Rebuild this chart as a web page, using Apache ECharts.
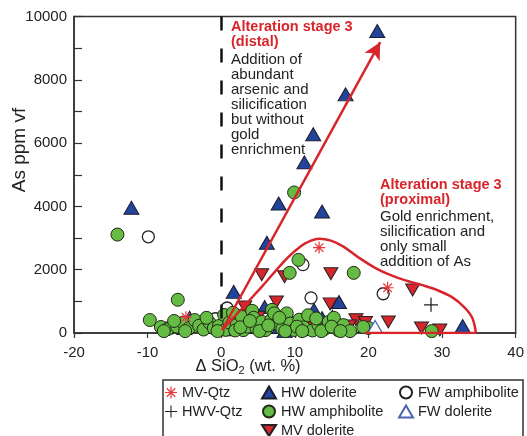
<!DOCTYPE html>
<html><head><meta charset="utf-8">
<script src="https://cdn.jsdelivr.net/npm/echarts@6/dist/echarts.min.js"></script>
<style>html,body{margin:0;padding:0;background:#fff}#c{width:527px;height:436px}</style>
</head><body><div id="c"></div>
<script>
// ---- data (Δ SiO2 wt.%, As ppm) ----
const mvQtz = [[13.3,2700],[22.6,1430],[-4.8,500]];
const hwvQtz = [[28.5,890]];
const hwDolerite = [[21.2,9540],[16.9,7540],[12.5,6280],[11.3,5390],[7.8,4090],[13.7,3840],[6.2,2850],[1.7,1300],[-12.2,3960],[16.0,980],[12.6,730],[32.8,220],[9.1,570],[5.9,820],[13.7,470],[15.1,510],[10.5,250],[16.5,130],[7.9,190],[9.1,320],[11.1,190],[-4.3,480],[-5.0,160],[3.3,200],[4.5,350],[0.9,120],[8.6,60]];
const hwAmphibolite = [[9.9,4440],[-14.1,3110],[10.5,2310],[9.3,1900],[18.0,1900],[-5.9,1050],[-9.7,410],[28.6,60],[20.0,160],
  [-8.2,190],[-7.3,120],[-6.0,200],[-5.2,330],[-4.4,150],[-3.6,410],[-3.0,230],[-2.4,110],[-1.6,330],[-1.0,150],[-0.3,220],[0.4,570],[0.6,100],[1.1,330],[1.6,640],[2.1,250],[2.8,510],[3.0,90],[3.6,200],[4.2,700],[4.4,480],[4.8,150],[5.5,350],[6.0,90],[6.8,410],[6.9,730],[7.2,620],[7.6,300],[8.3,130],[8.9,620],[9.4,300],[9.9,95],[10.6,420],[11.2,180],[11.8,560],[12.4,80],[13.2,260],[14.0,120],[14.6,350],[15.3,480],[15.9,90],[16.6,250],[19.3,190],[17.5,60],
  [-7.8,60],[-6.4,380],[-4.9,60],[-2.0,480],[-0.5,60],[1.9,80],[2.6,180],[3.9,380],[5.2,60],[6.4,240],[7.9,480],[8.7,60],[10.3,200],[11.0,60],[12.9,460],[13.6,60],[15.0,200],[16.2,60]];
const mvDolerite = [[5.5,1840],[8.6,1780],[14.9,1870],[26.0,1360],[22.7,350],[7.5,980],[14.8,920],[27.2,160],[29.7,95],[18.3,420],[19.6,330],[17.4,220],[3.2,820],[-6.6,160],[12.0,300],[5.0,500],[10.0,130]];
const fwAmphibolite = [[-9.9,3040],[11.1,2160],[12.2,1110],[22.0,1240],[0.8,790],[2.2,560],[-0.8,450],[17.9,130],[11.5,100]];
const fwDolerite = [[20.9,190]];
// proximal envelope (stage 3 proximal field)
const envelopeCurve = [[0.13,95],[5.5,1460],[8.9,2350],[10.9,2760],[12.2,2920],[13.3,2980],[14.9,2920],[16.6,2730],[18.7,2380],[20.9,2060],[23.2,1810],[25.2,1650],[27.2,1520],[29.3,1360],[31.3,1140],[33.0,820],[34.1,480],[34.6,0]];
const envelopeBase = [[34.6,0],[19.5,0]];
// distal trend arrow
const arrowFrom = [0.13,95];
const arrowTo = [21.6,9190];
const xMin = -20, xMax = 40, xStep = 10;
const yMin = 0, yMax = 10000, yStep = 2000;

const FONT = '"Liberation Sans", Arial, Helvetica, sans-serif';
const RED = '#d8252b';
const asteriskPath = 'path://M-1,-10L1,-10L1,10L-1,10Z M-10,-1L10,-1L10,1L-10,1Z M-7.78,-6.36L-6.36,-7.78L7.78,6.36L6.36,7.78Z M6.36,-7.78L7.78,-6.36L-6.36,7.78L-7.78,6.36Z';
const plusPath = 'path://M-0.9,-10L0.9,-10L0.9,10L-0.9,10Z M-10,-0.9L10,-0.9L10,0.9L-10,0.9Z';
const downTriPath = 'path://M-10,-8L10,-8L0,8Z';

const chart = echarts.init(document.getElementById('c'), null, {renderer:'canvas'});
const legendText = {fontSize:14.5, color:'#222', fontFamily:FONT};
const legendBase = {orient:'horizontal', width:10, top:385, itemHeight:12, itemGap:4, textStyle:legendText, selectedMode:false, padding:0};
chart.setOption({
  animation:false,
  backgroundColor:'#fff',
  grid:{left:74, right:3, top:16.5, bottom:103, show:true, borderColor:'#333', borderWidth:1.5, backgroundColor:'transparent'},
  xAxis:{type:'value', min:xMin, max:xMax, interval:xStep,
    axisLine:{show:true, onZero:false, lineStyle:{color:'#333', width:1.5}},
    axisTick:{show:true, length:5, lineStyle:{color:'#333', width:1.2}},
    axisLabel:{fontSize:15, color:'#222', fontFamily:FONT, margin:12, formatter:v=>String(v)},
    splitLine:{show:false}},
  yAxis:{type:'value', min:yMin, max:yMax, interval:yStep,
    axisLine:{show:true, onZero:false, lineStyle:{color:'#333', width:1.5}},
    axisTick:{show:true, inside:true, length:8, lineStyle:{color:'#333', width:1.2}},
    minorTick:{show:true, splitNumber:2, length:8, lineStyle:{color:'#333', width:1.2}},
    axisLabel:{fontSize:15, color:'#222', fontFamily:FONT, margin:7, formatter:v=>String(v)},
    splitLine:{show:false}, minorSplitLine:{show:false}},
  legend:[
    Object.assign({data:['MV-Qtz','HWV-Qtz'], left:165, itemWidth:12}, legendBase),
    Object.assign({data:['HW dolerite','HW amphibolite','MV dolerite'], left:261, itemWidth:14}, legendBase),
    Object.assign({data:['FW amphibolite','FW dolerite'], left:398, itemWidth:14}, legendBase)
  ],
  graphic:[
    {type:'rect', shape:{x:163, y:380, width:360, height:80}, style:{fill:'none', stroke:'#333', lineWidth:1.5}, z:100},
    {type:'text', x:20, y:150, rotation:Math.PI/2, style:{text:'As ppm vf', fontSize:19, fontFamily:FONT, fill:'#222', align:'center', verticalAlign:'middle'}},
    {type:'text', x:248, y:366, style:{text:'{a|Δ SiO}{s|2}{a| (wt. %)}', align:'center', verticalAlign:'middle',
      rich:{a:{fontSize:16.5, fontFamily:FONT, fill:'#222', color:'#222'}, s:{fontSize:11, fontFamily:FONT, color:'#222', fill:'#222', padding:[10,0,0,0], verticalAlign:'bottom'}}}},
    {type:'text', x:231, y:19.5, z:50, style:{text:'Alteration stage 3\n(distal)', fontSize:14.5, fontWeight:'bold', fontFamily:FONT, fill:RED, lineHeight:15}},
    {type:'text', x:231, y:52, z:50, style:{text:'Addition of\nabundant\narsenic and\nsilicification\nbut without\ngold\nenrichment', fontSize:15, fontFamily:FONT, fill:'#222', lineHeight:15}},
    {type:'text', x:380, y:177.5, z:50, style:{text:'Alteration stage 3\n(proximal)', fontSize:14.5, fontWeight:'bold', fontFamily:FONT, fill:RED, lineHeight:15}},
    {type:'text', x:380, y:209.5, z:50, style:{text:'Gold enrichment,\nsilicification and\nonly small\naddition of As', fontSize:15, fontFamily:FONT, fill:'#222', lineHeight:15}}
  ],
  series:[
    {type:'line', data:[], z:1, silent:true,
     markLine:{silent:true, symbol:['none','none'], label:{show:false}, animation:false,
       lineStyle:{color:'#111', width:2.5, type:[14,18]},
       data:[[{coord:[0,yMax]},{coord:[0,yMin]}]]}},
    {name:'FW amphibolite', type:'scatter', data:fwAmphibolite, symbol:'circle', symbolSize:12, z:3,
     itemStyle:{color:'#fff', borderColor:'#222', borderWidth:1.3, opacity:1}},
    {name:'HW dolerite', type:'scatter', data:hwDolerite, symbol:'triangle', symbolSize:[15,13], z:3,
     itemStyle:{color:'#23449b', borderColor:'#1a1a2a', borderWidth:1, opacity:1}},
    {name:'MV dolerite', type:'scatter', data:mvDolerite, symbol:downTriPath, symbolSize:[14,12], z:3,
     itemStyle:{color:'#d7262c', borderColor:'#222', borderWidth:1, opacity:1}},
    {name:'HW amphibolite', type:'scatter', data:hwAmphibolite, symbol:'circle', symbolSize:13, z:3,
     itemStyle:{color:'#66bb45', borderColor:'#1e2a14', borderWidth:1, opacity:1}},
    {name:'FW dolerite', type:'scatter', data:fwDolerite, symbol:'triangle', symbolSize:[15,13], z:3,
     itemStyle:{color:'#fff', borderColor:'#4a63b3', borderWidth:1.2, opacity:1}},
    {name:'MV-Qtz', type:'scatter', data:mvQtz, symbol:asteriskPath, symbolSize:12, z:4,
     itemStyle:{color:'#e8383c', opacity:1}},
    {name:'HWV-Qtz', type:'scatter', data:hwvQtz, symbol:plusPath, symbolSize:14, z:4,
     itemStyle:{color:'#222', opacity:1}},
    {type:'line', data:envelopeCurve, smooth:0.35, symbol:'none', z:5, silent:true,
     lineStyle:{color:RED, width:2.5}},
    {type:'line', data:envelopeBase, symbol:'none', z:5, silent:true,
     lineStyle:{color:RED, width:2.5},
     markLine:{silent:true, symbol:['none','arrow'], symbolSize:[13,17], label:{show:false}, animation:false,
       lineStyle:{color:RED, width:2.5, type:'solid'},
       data:[[{coord:arrowFrom},{coord:arrowTo}]]}}
  ]
});
</script></body></html>
